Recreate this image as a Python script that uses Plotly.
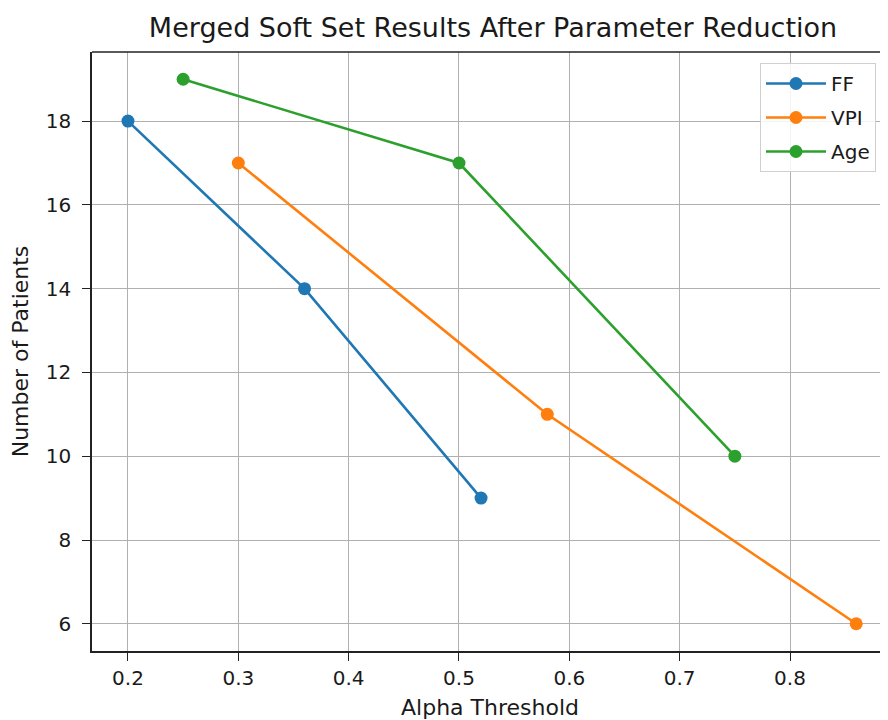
import plotly.graph_objects as go

series_names = ["FF", "VPI", "Age"]
ff_x = [0.2, 0.36, 0.52]
ff_y = [18, 14, 9]
vpi_x = [0.3, 0.58, 0.86]
vpi_y = [17, 11, 6]
age_x = [0.25, 0.5, 0.75]
age_y = [19, 17, 10]
colors = ["#1f77b4", "#ff7f0e", "#2ca02c"]
x_ticks = [0.2, 0.3, 0.4, 0.5, 0.6, 0.7, 0.8]
y_ticks = [6, 8, 10, 12, 14, 16, 18]

FONT = "DejaVu Sans"
TXT = "#1a1a1a"

fig = go.Figure()
for name, xs, ys, c in zip(series_names, [ff_x, vpi_x, age_x], [ff_y, vpi_y, age_y], colors):
    fig.add_trace(go.Scatter(
        x=xs, y=ys, name=name, mode="lines+markers", legendgroup=name,
        line=dict(color=c, width=2.6),
        marker=dict(color=c, size=13),
    ))

W, H = 880, 712
L, R, T, B = 84, 0, 44, 69
PW, PH = W - L - R, H - T - B

fig.update_layout(
    width=W, height=H,
    margin=dict(l=L, r=R, t=T, b=B, autoexpand=False),
    paper_bgcolor="white", plot_bgcolor="white",
    font=dict(family=FONT, size=20, color=TXT),
    title=dict(text="Merged Soft Set Results After Parameter Reduction",
               x=485 / W, xanchor="center",
               y=1 - 20 / H, yanchor="middle",
               font=dict(family=FONT, size=27, color=TXT)),
    showlegend=True,
    legend=dict(x=(752 - L) / PW, xanchor="left", y=(H - B - 55) / PH, yanchor="top",
                bgcolor="rgba(255,255,255,0.85)", bordercolor="#d0d0d0", borderwidth=1,
                font=dict(family=FONT, size=20, color=TXT), itemwidth=60,
                traceorder="grouped", tracegroupgap=5),
)
fig.update_xaxes(
    range=[0.1674, 0.8888], tickvals=x_ticks, ticktext=[f"{v:.1f}" for v in x_ticks],
    showgrid=True, gridcolor="#b0b0b0", gridwidth=1,
    showline=True, linecolor="#222", linewidth=1.5, mirror=False,
    ticks="outside", ticklen=8, tickcolor="#222", tickwidth=1.2,
    tickfont=dict(family=FONT, size=20, color=TXT),
    zeroline=False,
    title=dict(text="Alpha Threshold", standoff=12, font=dict(family=FONT, size=22, color=TXT)),
)
fig.update_yaxes(
    range=[5.35, 19.65], tickvals=y_ticks,
    showgrid=True, gridcolor="#b0b0b0", gridwidth=1,
    showline=True, linecolor="#222", linewidth=1.5, mirror=False,
    ticks="outside", ticklen=8, tickcolor="#222", tickwidth=1.2,
    tickfont=dict(family=FONT, size=20, color=TXT), ticklabelstandoff=7,
    zeroline=False,
    title=dict(text="Number of Patients", standoff=14, font=dict(family=FONT, size=22, color=TXT)),
)
fig.update_layout(shapes=[dict(type="line", xref="paper", yref="paper", x0=0, x1=1, y0=1, y1=1,
                               line=dict(color="#222", width=1.5))])
fig.write_html("out.html")
